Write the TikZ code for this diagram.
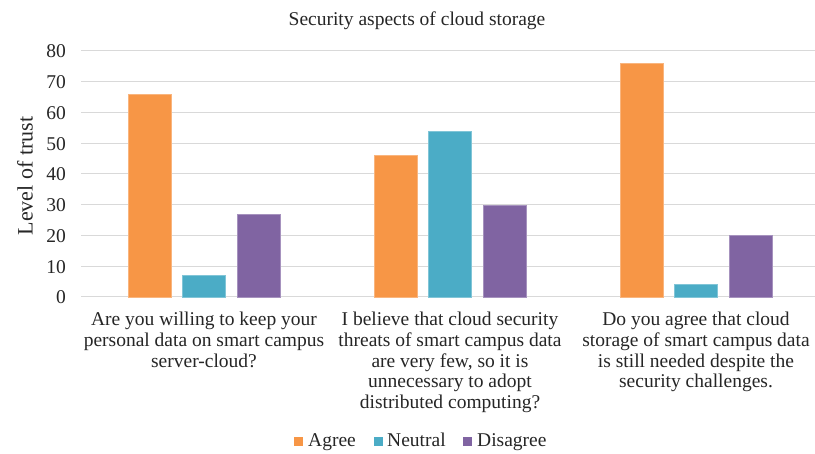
\documentclass[tikz,border=0pt]{standalone}
\usepackage{fontspec}
\setmainfont{Liberation Serif}
\definecolor{agreeC}{HTML}{F79646}
\definecolor{neutralC}{HTML}{4BACC6}
\definecolor{disagreeC}{HTML}{8064A2}
\definecolor{gridC}{HTML}{D9D9D9}
\definecolor{inkC}{HTML}{262626}
\begin{document}
\begin{tikzpicture}[x=1pt, y=-1pt,
    txt/.style={font=\fontsize{19.5}{20.7}\selectfont, text=inkC, inner sep=0pt},
    cat/.style={txt, align=center, anchor=north},
    tick/.style={txt, anchor=base east},
    gridline/.style={gridC, line width=1pt},
    agreebar/.style={fill=agreeC, draw=agreeC!70!white, line width=0.4pt},
    neutralbar/.style={fill=neutralC, draw=neutralC!70!white, line width=0.4pt},
    disagreebar/.style={fill=disagreeC, draw=disagreeC!70!white, line width=0.4pt}]
    \useasboundingbox[fill=white] (0,0) rectangle (815,454);
    % Title
    \node[txt, anchor=base] (title) at (417,26) {Security aspects of cloud storage};
    % Gridlines (10 units = 30.75)
    \draw[gridline] (81,297) -- (818,297); \draw[gridline] (81,266.25) -- (818,266.25);
    \draw[gridline] (81,235.5) -- (818,235.5); \draw[gridline] (81,204.75) -- (818,204.75);
    \draw[gridline] (81,174) -- (818,174); \draw[gridline] (81,143.25) -- (818,143.25);
    \draw[gridline] (81,112.5) -- (818,112.5); \draw[gridline] (81,81.75) -- (818,81.75);
    \draw[gridline] (81,51) -- (818,51);
    % Tick labels
    \node[tick] (t0) at (66,304) {0}; \node[tick] (t10) at (66,273.25) {10};
    \node[tick] (t20) at (66,242.5) {20}; \node[tick] (t30) at (66,211.75) {30};
    \node[tick] (t40) at (66,181) {40}; \node[tick] (t50) at (66,150.25) {50};
    \node[tick] (t60) at (66,119.5) {60}; \node[tick] (t70) at (66,88.75) {70};
    \node[tick] (t80) at (66,58) {80};
    % Axis title
    \node[txt, font=\fontsize{22}{24}\selectfont, rotate=90] (ylab) at (25,176) {Level of trust};
    % Bars, question 1
    \draw[agreebar] (128,297) rectangle (171,{297-3.075*66});
    \draw[neutralbar] (182,297) rectangle (225,{297-3.075*7});
    \draw[disagreebar] (237,297) rectangle (280,{297-3.075*27});
    % Bars, question 2
    \draw[agreebar] (374,297) rectangle (417,{297-3.075*46});
    \draw[neutralbar] (428,297) rectangle (471,{297-3.075*54});
    \draw[disagreebar] (483,297) rectangle (526,{297-3.075*30});
    % Bars, question 3
    \draw[agreebar] (620,297) rectangle (663,{297-3.075*76});
    \draw[neutralbar] (674,297) rectangle (717,{297-3.075*4});
    \draw[disagreebar] (729,297) rectangle (772,{297-3.075*20});
    % Category labels
    \node[cat] (q1) at (204,312) {Are you willing to keep your\\personal data on smart campus\\server-cloud?};
    \node[cat] (q2) at (450,312) {I believe that cloud security\\threats of smart campus data\\are very few, so it is\\unnecessary to adopt\\distributed computing?};
    \node[cat] (q3) at (696,312) {Do you agree that cloud\\storage of smart campus data\\is still needed despite the\\security challenges.};
    % Legend
    \fill[agreeC] (294,437) rectangle (303,446); \node[txt, anchor=base west] (lagree) at (308,447) {Agree};
    \fill[neutralC] (374,437) rectangle (383,446); \node[txt, anchor=base west] (lneutral) at (387,447) {Neutral};
    \fill[disagreeC] (463,437) rectangle (472,446); \node[txt, anchor=base west] (ldisagree) at (477,447) {Disagree};
\end{tikzpicture}
\end{document}
